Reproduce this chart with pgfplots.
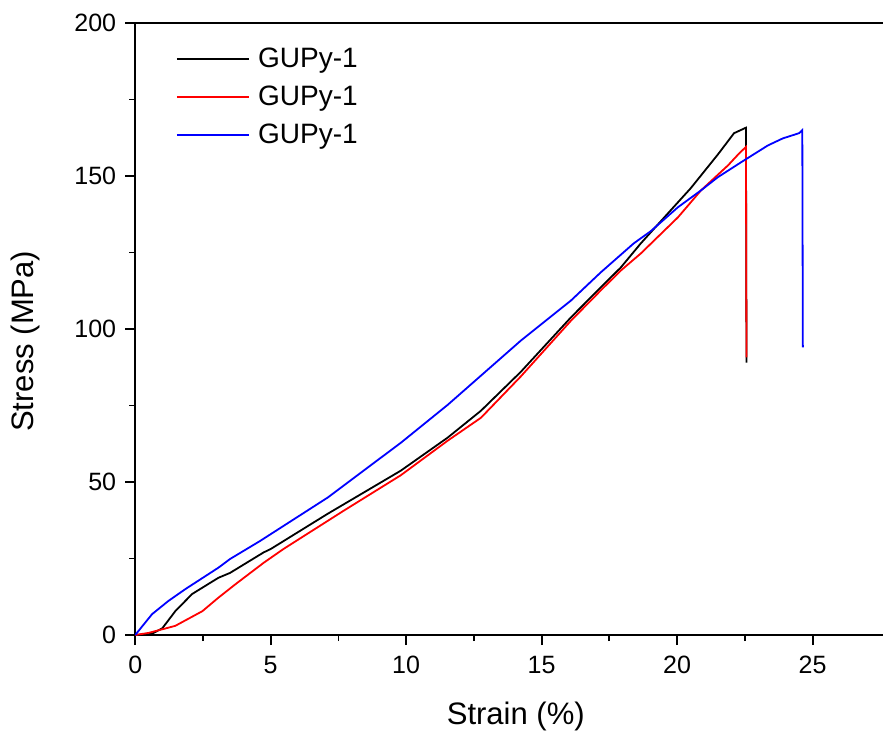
\documentclass[border=0pt]{standalone}
\usepackage{fontspec}
\setmainfont{Liberation Sans}
\usepackage{pgfplots}
\pgfplotsset{compat=1.18}

\begin{document}
\begin{tikzpicture}
\path[use as bounding box] (-67.5pt,-50pt) rectangle (373.3pt,317pt);
\begin{axis}[
    at={(0pt,0pt)}, anchor=south west,
    scale only axis,
    width=374pt, height=305.5pt,
    xmin=0, xmax=27.65,
    ymin=0, ymax=200,
    xtick pos=bottom,
    ytick pos=left,
    xtick={0,5,10,15,20,25},
    ytick={0,50,100,150,200},
    minor x tick num=1,
    minor y tick num=1,
    tick align=outside,
    major tick length=5pt,
    minor tick length=3pt,
    axis line style={line width=1pt},
    every tick/.style={black, line width=0.9pt},
    /pgf/number format/assume math mode=true,
    ticklabel style={font=\fontsize{12.5}{15}\selectfont},
    x tick label style={yshift=-2pt},
    y tick label style={xshift=-1pt},
    label style={font=\fontsize{15.5}{18}\selectfont},
    xlabel={Strain (\%)},
    ylabel={Stress (MPa)},
    x label style={at={(axis description cs:0.508,-0.1326)}, anchor=center},
    y label style={at={(axis description cs:-0.147,0.48)}, anchor=center},
    legend style={at={(axis description cs:0.046,0.973)}, anchor=north west,
        draw=none, fill=none, font=\fontsize{14}{16}\selectfont,
        row sep=3.6pt,
        /tikz/every odd column/.append style={column sep=2pt}},
    legend cell align=left,
    legend image code/.code={\draw[#1] (0pt,0pt) -- (36pt,0pt);},
]
\addplot[black, line width=0.9pt] coordinates {
(0,0) (0.3,0.2) (0.62,0.4) (1.0,2.2) (1.48,7.8) (2.1,13.4) (3.07,18.7)
(3.5,20.3) (4.74,27) (5.0,28.1) (7.1,39.6) (9.8,53.7) (11.53,64.5)
(12.76,73.3) (14.23,86) (16.08,103.8) (17.18,113.6) (17.92,120.1)
(18.66,128) (19.66,137.8) (20.5,146) (21.5,157) (22.1,164) (22.54,165.8)
(22.56,89)
};
\addlegendentry{GUPy-1}
\addplot[red, line width=0.9pt] coordinates {
(0,0) (0.5,0.7) (1.48,3) (2.48,7.8) (3.07,12.2) (3.7,16.6) (4.74,23.6)
(5.47,28.1) (7.69,40.6) (9.8,52.2) (11.53,63.5) (12.76,71) (14.23,84.5)
(16.08,102.7) (17.18,112.6) (17.92,119.1) (18.66,124.7) (20.03,136.5)
(20.88,145.3) (21.88,153.5) (22.3,157.5) (22.54,159.5) (22.56,90.7)
};
\addlegendentry{GUPy-1}
\addplot[blue, line width=0.9pt] coordinates {
(0,0) (0.62,6.8) (1.22,11.1) (1.85,15) (3.07,22) (3.51,24.9) (4.62,30.8)
(7.1,44.9) (9.06,57.9) (9.8,62.8) (11.53,75.2) (14.23,96.2) (16.08,109.3)
(17.18,118.5) (18.4,128) (19.03,132) (20.03,139.8) (20.88,145.3) (21.5,149.6)
(22.36,154.5) (23.35,160) (23.9,162.3) (24.5,164) (24.62,165) (24.64,94)
};
\addlegendentry{GUPy-1}
\end{axis}
\draw[black, line width=1.4pt] (-0.5pt,305.5pt) -- (373.3pt,305.5pt);
\end{tikzpicture}
\end{document}
